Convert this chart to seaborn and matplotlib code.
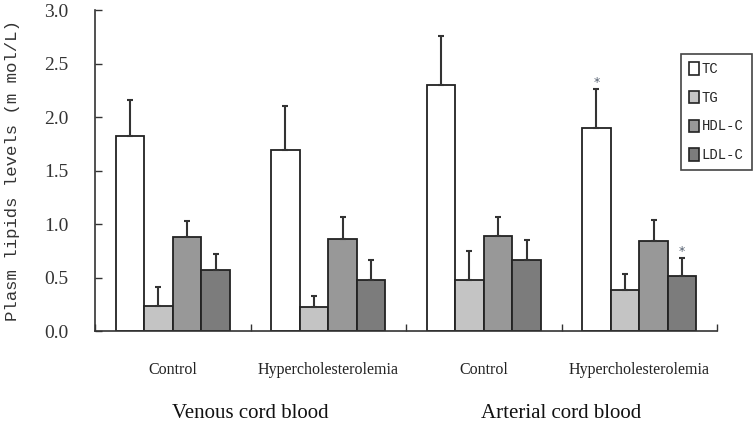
import numpy as np
import pandas as pd
import seaborn as sns
import matplotlib.pyplot as plt
import matplotlib.transforms as mtransforms

# data
groups = ['Venous Control', 'Venous Hyper', 'Arterial Control', 'Arterial Hyper']
group_labels = ['Control', 'Hypercholesterolemia', 'Control', 'Hypercholesterolemia']
lipids = ['TC', 'TG', 'HDL-C', 'LDL-C']
tc = [1.82, 1.69, 2.30, 1.90]
tg = [0.23, 0.22, 0.48, 0.38]
hdl = [0.88, 0.86, 0.89, 0.84]
ldl = [0.57, 0.48, 0.66, 0.51]
tc_sd = [0.34, 0.41, 0.46, 0.36]
tg_sd = [0.18, 0.11, 0.27, 0.15]
hdl_sd = [0.15, 0.21, 0.18, 0.20]
ldl_sd = [0.15, 0.18, 0.19, 0.17]
colors = ['#ffffff', '#c4c4c4', '#989898', '#7c7c7c']

rows = []
for lip, vals, sds in zip(lipids, [tc, tg, hdl, ldl], [tc_sd, tg_sd, hdl_sd, ldl_sd]):
    for g, v, s in zip(groups, vals, sds):
        rows.append({'group': g, 'lipid': lip, 'value': v, 'sd': s})
df = pd.DataFrame(rows)

sns.set_style('white')
fig = plt.figure(figsize=(7.54, 4.30), dpi=100)
ax = fig.add_axes([0.126, 0.2302, 0.825, 0.7465])

sns.barplot(data=df, x='group', y='value', hue='lipid', order=groups,
            hue_order=lipids, palette=colors, width=0.735, errorbar=None,
            edgecolor='#222222', linewidth=1.3, saturation=1, ax=ax, legend=False)

# one-sided error bars on top of every bar
for cont, lip in zip(ax.containers, lipids):
    sub = df[df['lipid'] == lip].set_index('group').loc[groups]
    xs = [p.get_x() + p.get_width() / 2 for p in cont.patches]
    hs = [p.get_height() for p in cont.patches]
    ax.errorbar(xs, hs, yerr=[np.zeros(len(hs)), sub['sd'].values], fmt='none',
                ecolor='#333333', elinewidth=1.5, capsize=2, capthick=1.5, zorder=1)

# significance marks (arterial hypercholesterolemia TC and LDL-C)
for cont, lip in [(ax.containers[0], 'TC'), (ax.containers[3], 'LDL-C')]:
    p = cont.patches[3]
    sd = df[(df['lipid'] == lip) & (df['group'] == groups[3])]['sd'].values[0]
    ax.text(p.get_x() + p.get_width() / 2, p.get_height() + sd + 0.06, '*',
            ha='center', va='center', fontsize=9, color='#556070')

ax.set_xlim(-0.5, 3.5)
ax.set_ylim(0, 3.0)
ax.set_yticks(np.arange(0, 3.01, 0.5))
ax.set_yticklabels([f'{v:.1f}' for v in np.arange(0, 3.01, 0.5)],
                   fontfamily='Liberation Serif', fontsize=14, color='#333333')
ax.set_xticks([-0.5, 0.5, 1.5, 2.5, 3.5])
ax.set_xticklabels([])
ax.tick_params(axis='y', direction='in', length=5, width=1, color='#333333', pad=19, left=True)
ax.tick_params(axis='x', direction='in', length=5, width=1, color='#333333', bottom=True)
ax.set_xlabel('')
ax.set_ylabel('Plasm lipids levels (m mol/L)', fontfamily='Liberation Mono',
              fontsize=12.5, color='#333333')
ax.yaxis.set_label_coords(-0.121, 0.5)
sns.despine(ax=ax)
for s in ['left', 'bottom']:
    ax.spines[s].set_color('#333333')
    ax.spines[s].set_linewidth(1.2)

trans = mtransforms.blended_transform_factory(ax.transData, fig.transFigure)
for i, lab in enumerate(group_labels):
    ax.text(i, 1 - 370 / 430, lab, transform=trans, ha='center', va='center',
            fontfamily='Liberation Serif', fontsize=11.5, color='#222222')
ax.text(0.5, 1 - 414 / 430, 'Venous cord blood', transform=trans, ha='center',
        va='center', fontfamily='Liberation Serif', fontsize=15, color='#111111')
ax.text(2.5, 1 - 414 / 430, 'Arterial cord blood', transform=trans, ha='center',
        va='center', fontfamily='Liberation Serif', fontsize=15, color='#111111')

handles = [plt.Rectangle((0, 0), 1, 1, facecolor=c, edgecolor='#222222', linewidth=1.2)
           for c in colors]
leg = fig.legend(handles, lipids, loc='upper left', bbox_to_anchor=(681 / 754, 1 - 54 / 430),
                 prop={'family': 'Liberation Mono', 'size': 10}, handlelength=0.7,
                 handleheight=1.0, handletextpad=0.2, labelspacing=1.05,
                 borderpad=0.6, borderaxespad=0, fancybox=False, framealpha=1)
leg.get_frame().set_edgecolor('#444444')
leg.get_frame().set_linewidth(1.2)

fig.savefig('out.png', dpi=100)
